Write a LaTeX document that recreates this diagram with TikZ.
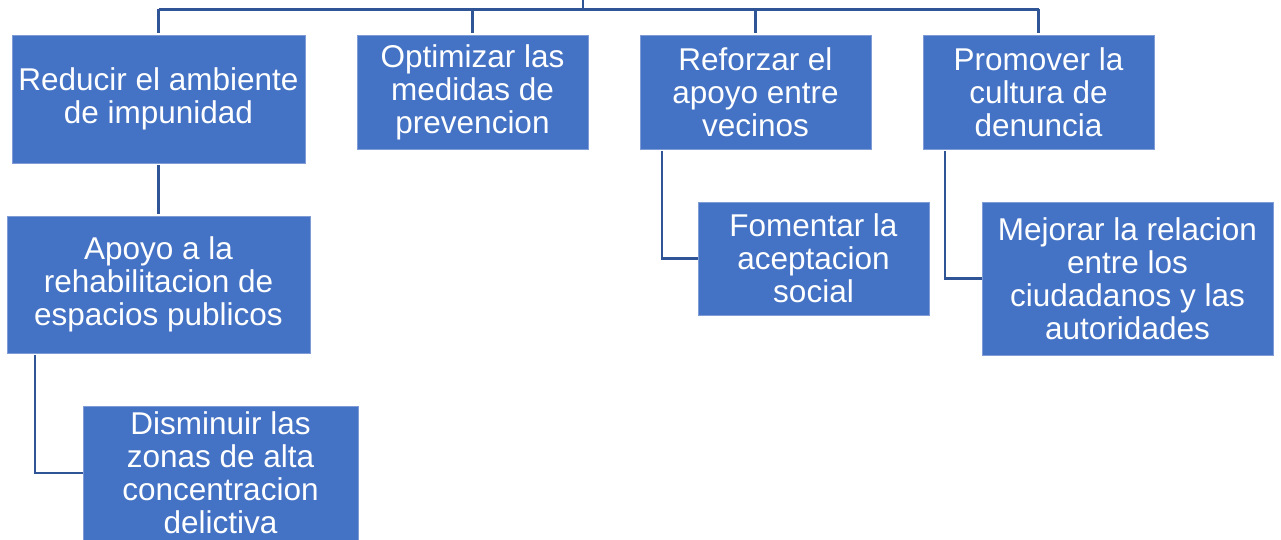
\documentclass[tikz,border=0pt]{standalone}
\usepackage{fontspec}
\setmainfont{Liberation Sans}
\definecolor{boxfill}{HTML}{4472C4}
\definecolor{boxedge}{HTML}{7F9CD6}
\definecolor{linkcol}{HTML}{2F5597}
\begin{document}
\begin{tikzpicture}[x=1pt,y=-1pt,
  box/.style={rectangle, fill=boxfill, draw=boxedge, line width=0.8pt,
    text=white, align=center, inner sep=0pt,
    font=\fontsize{31.5}{33}\selectfont},
  link/.style={draw=linkcol, line width=2.6pt, shorten <=2pt, shorten >=2pt},
  bar/.style={draw=linkcol, line width=2.6pt}]
\useasboundingbox (0,0) rectangle (1281,540);
\node[box, minimum width=293pt, minimum height=128pt] (b1) at (158.5,99) {Reducir el ambiente\\de impunidad};
\node[box, minimum width=231pt, minimum height=114pt] (b2) at (472.5,92) {Optimizar las\\medidas de\\prevencion};
\node[box, minimum width=231pt, minimum height=114pt] (b3) at (755.5,92) {Reforzar el\\apoyo entre\\vecinos};
\node[box, minimum width=231pt, minimum height=114pt] (b4) at (1038.5,92) {Promover la\\cultura de\\denuncia};
\node[box, minimum width=303pt, minimum height=137pt] (b5) at (158.5,284.5) {Apoyo a la\\rehabilitacion de\\espacios publicos};
\node[box, minimum width=275pt, minimum height=134pt] (b6) at (220.5,473) {Disminuir las\\zonas de alta\\concentracion\\delictiva};
\node[box, minimum width=231pt, minimum height=113pt] (b7) at (813.5,258.5) {Fomentar la\\aceptacion\\social};
\node[box, minimum width=291pt, minimum height=153pt] (b8) at (1127.5,278.5) {Mejorar la relacion\\entre los\\ciudadanos y las\\autoridades};
\coordinate (root) at (583,0);
\coordinate (busL) at (158.5,9.5);
\coordinate (busR) at (1038.5,9.5);
\coordinate (c5) at (35,0);
\coordinate (c7) at (662,0);
\coordinate (c8) at (945,0);
\draw[bar] (root) -- (root |- busL);
\draw[bar] (busL) -- (busR);
\draw[link, shorten <=0pt] (busL) -- (b1.north);
\draw[link, shorten <=0pt] (b2.north |- busL) -- (b2.north);
\draw[link, shorten <=0pt] (b3.north |- busL) -- (b3.north);
\draw[link, shorten <=0pt] (busR) -- (b4.north);
\draw[link] (b1.south) -- (b5.north);
\draw[link, shorten >=0pt] (c5 |- b5.south) -- (c5 |- b6.west) -- (b6.west);
\draw[link, shorten >=0pt] (c7 |- b3.south) -- (c7 |- b7.west) -- (b7.west);
\draw[link, shorten >=0pt] (c8 |- b4.south) -- (c8 |- b8.west) -- (b8.west);
\end{tikzpicture}
\end{document}
